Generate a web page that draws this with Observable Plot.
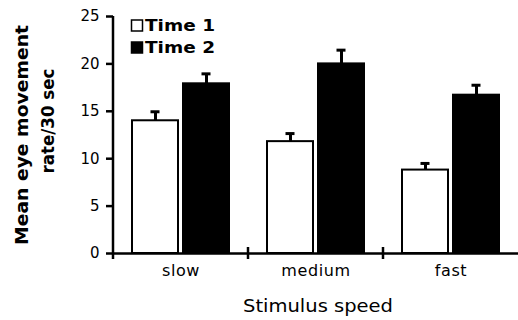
<!DOCTYPE html>
<html>
<head>
<meta charset="utf-8">
<script src="https://cdn.jsdelivr.net/npm/d3@7"></script>
<script src="https://cdn.jsdelivr.net/npm/@observablehq/plot@0.6"></script>
<style>
  html, body { margin: 0; padding: 0; background: white; }
  #chart { width: 518px; height: 320px; }
  svg [aria-label="fx-axis tick label"] text { letter-spacing: 0.6px; }
</style>
</head>
<body>
<div id="chart"></div>
<script>
const categories = ["slow", "medium", "fast"];
const series = ["Time 1", "Time 2"];
const time1 = [14.0, 11.8, 8.8];
const time2 = [17.9, 20.0, 16.7];
const err1 = [0.95, 0.85, 0.7];
const err2 = [1.05, 1.45, 1.05];
const yTicks = [0, 5, 10, 15, 20, 25];
const yLabelLines = ["Mean eye movement", "rate/30 sec"];
const xLabel = "Stimulus speed";

const data = categories.flatMap((c, i) => [
  {cat: c, series: series[0], value: time1[i], err: err1[i]},
  {cat: c, series: series[1], value: time2[i], err: err2[i]}
]);

const chart = Plot.plot({
  width: 518,
  height: 320,
  marginLeft: 112,
  marginRight: 0,
  marginTop: 16,
  marginBottom: 67,
  style: {fontFamily: "DejaVu Sans", color: "black", background: "white", overflow: "visible"},
  fx: {domain: categories, padding: 0, label: null, axis: null},
  x: {domain: series, paddingInner: 0.096, paddingOuter: 0.349, axis: null},
  y: {domain: [0, 25], axis: null},
  color: {domain: series, range: ["white", "black"]},
  marks: [
    Plot.axisY({ticks: yTicks, tickSize: 7, tickPadding: 7, fontSize: 15, label: null, strokeWidth: 2.5}),
    Plot.axisFx({anchor: "bottom", tickSize: 0, tickPadding: 11, fontSize: 16, label: null}),
    Plot.barY(data, {fx: "cat", x: "series", y: "value", fill: "series", stroke: "black", strokeWidth: 2}),
    Plot.ruleX(data, {fx: "cat", x: "series", y1: "value", y2: d => d.value + d.err, strokeWidth: 3}),
    Plot.tickY(data, {fx: "cat", x: "series", y: d => d.value + d.err, insetLeft: 18.5, insetRight: 18.5, strokeWidth: 3}),
    Plot.ruleY([0], {strokeWidth: 2.5})
  ]
});

document.getElementById("chart").appendChild(chart);

// axis lines & category separator ticks, positioned through the plot's own scales
const fx = chart.scale("fx");
const y = chart.scale("y");
const svg = d3.select(chart);
const g = svg.append("g").attr("stroke", "black").attr("stroke-width", 2.5);
categories.forEach((c, i) => {
  const x0 = fx.apply(c);
  g.append("line")
    .attr("x1", x0).attr("x2", x0)
    .attr("y1", i === 0 ? y.apply(yTicks[yTicks.length - 1]) : y.apply(0) - 6)
    .attr("y2", y.apply(0) + 6);
});

// y label
const yl = svg.append("g").attr("font-family", "DejaVu Sans").attr("font-weight", "bold").attr("font-size", 17.5).attr("fill", "black").attr("text-anchor", "middle");
yl.append("text").attr("transform", "translate(28,135) rotate(-90)")
  .attr("textLength", 220).attr("lengthAdjust", "spacingAndGlyphs").text(yLabelLines[0]);
yl.append("text").attr("transform", "translate(54,121) rotate(-90)")
  .attr("textLength", 105).attr("lengthAdjust", "spacingAndGlyphs").text(yLabelLines[1]);

// x label
svg.append("text").attr("x", 318).attr("y", 312).attr("text-anchor", "middle")
  .attr("font-family", "DejaVu Sans").attr("font-size", 17).attr("fill", "black")
  .attr("textLength", 150).attr("lengthAdjust", "spacingAndGlyphs").text(xLabel);

// legend
const lg = svg.append("g").attr("font-family", "DejaVu Sans").attr("font-weight", "bold").attr("font-size", 15.5).attr("text-anchor", "start");
series.forEach((s, i) => {
  const top = 20 + i * 22;
  lg.append("rect").attr("x", 131.5).attr("y", top).attr("width", 11).attr("height", 11)
    .attr("fill", i === 0 ? "white" : "black").attr("stroke", "black").attr("stroke-width", 1.5);
  lg.append("text").attr("x", 145).attr("y", top + 11).attr("fill", "black")
    .attr("textLength", 70).attr("lengthAdjust", "spacingAndGlyphs").text(s);
});
</script>
</body>
</html>
